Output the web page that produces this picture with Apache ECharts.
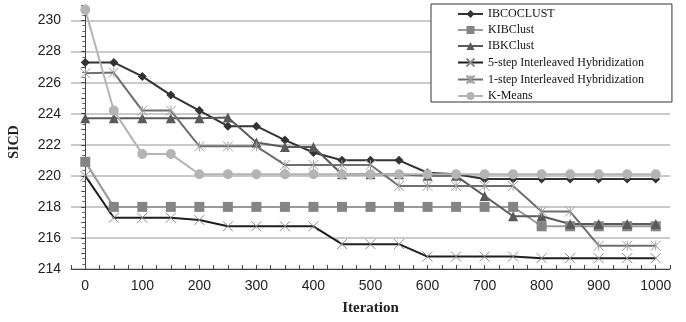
<!DOCTYPE html>
<html>
<head>
<meta charset="utf-8">
<script src="https://cdn.jsdelivr.net/npm/echarts@6/dist/echarts.min.js"></script>
<style>html,body{margin:0;padding:0;background:#fff}#c{width:686px;height:322px}</style>
</head>
<body>
<div id="c"></div>
<script>
const iterations = [0,50,100,150,200,250,300,350,400,450,500,550,600,650,700,750,800,850,900,950,1000];
const ibcoclust = [227.3,227.3,226.4,225.2,224.2,223.2,223.2,222.3,221.5,221.0,221.0,221.0,220.2,220.1,219.8,219.8,219.8,219.8,219.8,219.8,219.8];
const kibclust  = [220.9,218.0,218.0,218.0,218.0,218.0,218.0,218.0,218.0,218.0,218.0,218.0,218.0,218.0,218.0,218.0,216.75,216.75,216.75,216.75,216.75];
const ibkclust  = [223.7,223.7,223.7,223.7,223.7,223.75,222.15,221.85,221.85,220.1,220.1,220.1,220.0,220.0,218.7,217.4,217.4,216.9,216.9,216.9,216.9];
const step5     = [220.0,217.3,217.3,217.3,217.15,216.75,216.75,216.75,216.75,215.6,215.6,215.6,214.8,214.8,214.8,214.8,214.7,214.7,214.7,214.7,214.7];
const step1     = [226.6,226.65,224.2,224.2,221.9,221.9,221.9,220.7,220.7,220.7,220.7,219.35,219.35,219.35,219.35,219.35,217.7,217.7,215.5,215.5,215.5];
const kmeans    = [230.7,224.2,221.4,221.4,220.1,220.1,220.1,220.1,220.1,220.1,220.1,220.1,220.1,220.1,220.1,220.1,220.1,220.1,220.1,220.1,220.1];
const seriesNames = ['IBCOCLUST','KIBClust','IBKClust','5-step Interleaved Hybridization','1-step Interleaved Hybridization','K-Means'];
const yLabelMin = 214, yLabelMax = 230;

const pair = arr => iterations.map((x,i)=>[x,arr[i]]);
const X_PATH = 'path://M0,0L10,10M10,0L0,10';
const AST_PATH = 'path://M0,0L10,10M10,0L0,10M5,0L5,10';

function mk(name, data, lineColor, symbol, symColor, size, opts) {
  return Object.assign({
    name, type:'line', data: pair(data),
    symbol, symbolSize: size, showSymbol: true,
    lineStyle:{color: lineColor, width: 2},
    itemStyle:{color: symColor, borderColor: symColor, borderWidth: 0},
    emphasis:{disabled:true}, animation:false
  }, opts||{});
}

const chart = echarts.init(document.getElementById('c'), null, {renderer:'canvas'});
chart.setOption({
  animation:false,
  backgroundColor:'#fff',
  grid:{left:71, right:16, top:5, bottom:53, containLabel:false, outerBoundsMode:'none'},
  legend:{
    orient:'vertical', left:431, top:4,
    padding:[4,28,0,26], itemGap:4, itemWidth:25, itemHeight:10,
    borderColor:'#333', borderWidth:1, backgroundColor:'#fff',
    textStyle:{fontFamily:'Liberation Serif', fontSize:12, color:'#111', lineHeight:12},
    data: seriesNames
  },
  xAxis:{
    type:'value', min:-25, max:1025, interval:25,
    name:'Iteration', nameLocation:'middle', nameGap:32,
    nameTextStyle:{fontFamily:'Liberation Serif', fontWeight:'bold', fontSize:15, color:'#222'},
    axisLine:{lineStyle:{color:'#444', width:1}},
    axisTick:{show:true, inside:true, length:4, lineStyle:{color:'#444'}},
    splitLine:{show:false},
    axisLabel:{fontFamily:'Liberation Sans', fontSize:14, color:'#222', margin:10,
      formatter: v => (v>=0 && v%100===0) ? String(v) : ''}
  },
  yAxis:{
    type:'value', min:yLabelMin, max:231, interval:1,
    name:'SICD', nameLocation:'middle', nameGap:50,
    nameTextStyle:{fontFamily:'Liberation Serif', fontWeight:'bold', fontSize:14, color:'#222', padding:[0,10,0,0]},
    axisLine:{show:true, lineStyle:{color:'#444', width:1}},
    axisTick:{show:true, length:4, lineStyle:{color:'#444'}},
    minorTick:{show:true, splitNumber:3, length:3, lineStyle:{color:'#666'}},
    splitLine:{show:true, lineStyle:{color:['#b8b8b8','rgba(0,0,0,0)'], width:1.5}},
    axisLabel:{fontFamily:'Liberation Sans', fontSize:14, color:'#222', margin:10,
      formatter: v => (v%2===0 && v<=yLabelMax) ? String(v) : ''}
  },
  series:[
    mk(seriesNames[0], ibcoclust, '#333', 'diamond', '#333', 9),
    mk(seriesNames[1], kibclust, '#9a9a9a', 'rect', '#858585', 10),
    mk(seriesNames[2], ibkclust, '#5a5a5a', 'triangle', '#5a5a5a', 10),
    mk(seriesNames[3], step5, '#1e1e1e', X_PATH, '#8a8a8a', 10, {itemStyle:{color:'none', borderColor:'#8a8a8a', borderWidth:1}}),
    mk(seriesNames[4], step1, '#6e6e6e', AST_PATH, '#a0a0a0', 10, {itemStyle:{color:'none', borderColor:'#a0a0a0', borderWidth:1}}),
    mk(seriesNames[5], kmeans, '#b4b4b4', 'circle', '#b4b4b4', 10)
  ]
});
</script>
</body>
</html>
